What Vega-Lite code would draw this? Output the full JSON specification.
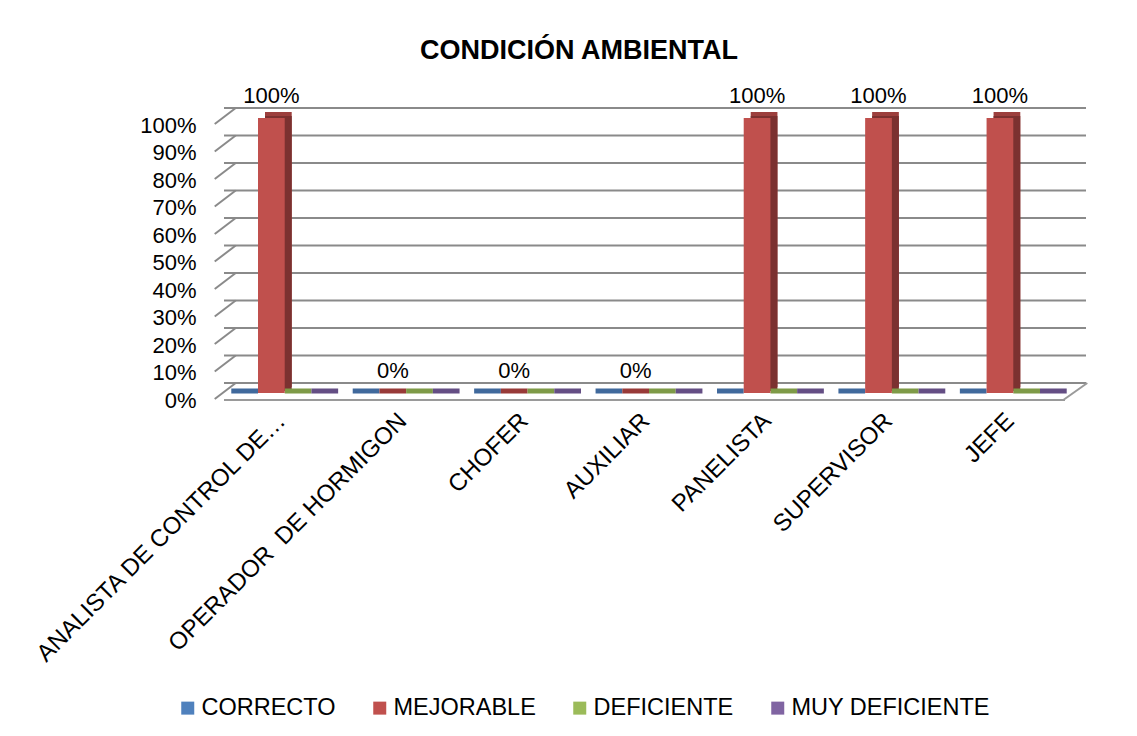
{
  "$schema": "https://vega.github.io/schema/vega-lite/v6.json",
  "width": 850,
  "height": 275,
  "autosize": {"type": "none"},
  "padding": {"left": 224, "top": 118, "right": 63, "bottom": 343},
  "background": "white",
  "config": {
    "view": {"stroke": null},
    "font": "Liberation Sans",
    "axisY": {
      "title": null,
      "grid": false,
      "ticks": false,
      "domain": false,
      "labelOverlap": false,
      "labelFontSize": 22,
      "labelColor": "black",
      "labelPadding": 28,
      "labelOffset": 7,
      "format": ".0%"
    },
    "axisX": {
      "title": null,
      "labelAngle": -45,
      "labelAlign": "right",
      "labelBaseline": "middle",
      "labelFontSize": 24,
      "labelColor": "black",
      "labelPadding": 24,
      "labelOffset": -3,
      "labelLimit": 500,
      "labelOverlap": false,
      "ticks": false,
      "domain": false
    },
    "legend": {
      "title": null,
      "orient": "none",
      "legendX": -48,
      "legendY": 578,
      "direction": "horizontal",
      "symbolType": "square",
      "symbolSize": 169,
      "symbolStrokeWidth": 0,
      "labelFontSize": 23.5,
      "labelColor": "black",
      "labelOffset": 2,
      "columnPadding": 32,
      "labelLimit": 400
    }
  },
  "title": {
    "text": "CONDICIÓN AMBIENTAL",
    "fontSize": 27,
    "fontWeight": "bold",
    "color": "black",
    "frame": "group",
    "anchor": "middle",
    "dx": -70,
    "offset": 20
  },
  "datasets": {
    "respuestas": [
      {"puesto": "ANALISTA DE CONTROL DE…", "serie": "CORRECTO", "valor": 0},
      {"puesto": "ANALISTA DE CONTROL DE…", "serie": "MEJORABLE", "valor": 1},
      {"puesto": "ANALISTA DE CONTROL DE…", "serie": "DEFICIENTE", "valor": 0},
      {"puesto": "ANALISTA DE CONTROL DE…", "serie": "MUY DEFICIENTE", "valor": 0},
      {"puesto": "OPERADOR\u00a0 DE HORMIGON", "serie": "CORRECTO", "valor": 0},
      {"puesto": "OPERADOR\u00a0 DE HORMIGON", "serie": "MEJORABLE", "valor": 0},
      {"puesto": "OPERADOR\u00a0 DE HORMIGON", "serie": "DEFICIENTE", "valor": 0},
      {"puesto": "OPERADOR\u00a0 DE HORMIGON", "serie": "MUY DEFICIENTE", "valor": 0},
      {"puesto": "CHOFER", "serie": "CORRECTO", "valor": 0},
      {"puesto": "CHOFER", "serie": "MEJORABLE", "valor": 0},
      {"puesto": "CHOFER", "serie": "DEFICIENTE", "valor": 0},
      {"puesto": "CHOFER", "serie": "MUY DEFICIENTE", "valor": 0},
      {"puesto": "AUXILIAR", "serie": "CORRECTO", "valor": 0},
      {"puesto": "AUXILIAR", "serie": "MEJORABLE", "valor": 0},
      {"puesto": "AUXILIAR", "serie": "DEFICIENTE", "valor": 0},
      {"puesto": "AUXILIAR", "serie": "MUY DEFICIENTE", "valor": 0},
      {"puesto": "PANELISTA", "serie": "CORRECTO", "valor": 0},
      {"puesto": "PANELISTA", "serie": "MEJORABLE", "valor": 1},
      {"puesto": "PANELISTA", "serie": "DEFICIENTE", "valor": 0},
      {"puesto": "PANELISTA", "serie": "MUY DEFICIENTE", "valor": 0},
      {"puesto": "SUPERVISOR", "serie": "CORRECTO", "valor": 0},
      {"puesto": "SUPERVISOR", "serie": "MEJORABLE", "valor": 1},
      {"puesto": "SUPERVISOR", "serie": "DEFICIENTE", "valor": 0},
      {"puesto": "SUPERVISOR", "serie": "MUY DEFICIENTE", "valor": 0},
      {"puesto": "JEFE", "serie": "CORRECTO", "valor": 0},
      {"puesto": "JEFE", "serie": "MEJORABLE", "valor": 1},
      {"puesto": "JEFE", "serie": "DEFICIENTE", "valor": 0},
      {"puesto": "JEFE", "serie": "MUY DEFICIENTE", "valor": 0}
    ],
    "marcas": [
      {"p": 0}, {"p": 0.1}, {"p": 0.2}, {"p": 0.3}, {"p": 0.4}, {"p": 0.5},
      {"p": 0.6}, {"p": 0.7}, {"p": 0.8}, {"p": 0.9}, {"p": 1}
    ],
    "piso": [{"p": 0}]
  },
  "resolve": {"scale": {"xOffset": "independent"}},
  "layer": [
    {
      "data": {"name": "marcas"},
      "mark": {"type": "rule", "color": "#8a8a8a", "strokeWidth": 2, "xOffset": 12, "yOffset": -10},
      "encoding": {
        "y": {
          "field": "p",
          "type": "quantitative",
          "scale": {"domain": [0, 1], "nice": false},
          "axis": {"values": [0, 0.1, 0.2, 0.3, 0.4, 0.5, 0.6, 0.7, 0.8, 0.9, 1], "format": ".0%"}
        }
      }
    },
    {
      "data": {"name": "marcas"},
      "mark": {"type": "rule", "color": "#8a8a8a", "strokeWidth": 2, "xOffset": -70, "x2Offset": -49, "yOffset": 6, "y2Offset": -10},
      "encoding": {
        "x": {
          "datum": "ANALISTA DE CONTROL DE…",
          "type": "nominal",
          "scale": {"domain": ["ANALISTA DE CONTROL DE…", "OPERADOR\u00a0 DE HORMIGON", "CHOFER", "AUXILIAR", "PANELISTA", "SUPERVISOR", "JEFE"], "paddingInner": 0.12, "paddingOuter": 0.06}
        },
        "x2": {"datum": "ANALISTA DE CONTROL DE…"},
        "y": {"field": "p", "type": "quantitative", "axis": {"values": [0, 0.1, 0.2, 0.3, 0.4, 0.5, 0.6, 0.7, 0.8, 0.9, 1], "format": ".0%"}},
        "y2": {"field": "p"}
      }
    },
    {
      "data": {"name": "piso"},
      "mark": {"type": "rule", "color": "#9a9a9a", "strokeWidth": 2, "xOffset": -9, "yOffset": 7},
      "encoding": {
        "y": {"field": "p", "type": "quantitative", "axis": {"values": [0, 0.1, 0.2, 0.3, 0.4, 0.5, 0.6, 0.7, 0.8, 0.9, 1], "format": ".0%"}}
      }
    },
    {
      "data": {"name": "piso"},
      "mark": {"type": "rule", "color": "#9a9a9a", "strokeWidth": 2, "xOffset": 50, "x2Offset": 74, "yOffset": 7, "y2Offset": -10},
      "encoding": {
        "x": {"datum": "JEFE", "type": "nominal"},
        "x2": {"datum": "JEFE"},
        "y": {"field": "p", "type": "quantitative", "axis": {"values": [0, 0.1, 0.2, 0.3, 0.4, 0.5, 0.6, 0.7, 0.8, 0.9, 1], "format": ".0%"}},
        "y2": {"field": "p"}
      }
    },
    {
      "data": {"name": "respuestas"},
      "transform": [{"filter": "datum.valor > 0"}],
      "mark": {"type": "bar", "color": "#9c3f3d", "yOffset": -6},
      "encoding": {
        "x": {
          "field": "puesto",
          "type": "nominal",
          "sort": ["ANALISTA DE CONTROL DE…", "OPERADOR\u00a0 DE HORMIGON", "CHOFER", "AUXILIAR", "PANELISTA", "SUPERVISOR", "JEFE"]
        },
        "xOffset": {"field": "serie", "type": "nominal", "scale": {"domain": ["CORRECTO", "MEJORABLE", "DEFICIENTE", "MUY DEFICIENTE"], "range": [7, 113.86]}},
        "y": {"field": "valor", "type": "quantitative", "axis": {"values": [0, 0.1, 0.2, 0.3, 0.4, 0.5, 0.6, 0.7, 0.8, 0.9, 1], "format": ".0%"}}
      }
    },
    {
      "data": {"name": "respuestas"},
      "transform": [{"filter": "datum.valor > 0"}],
      "mark": {"type": "bar", "color": "#7b3130", "yOffset": -2},
      "encoding": {
        "x": {"field": "puesto", "type": "nominal"},
        "xOffset": {"field": "serie", "type": "nominal", "scale": {"domain": ["CORRECTO", "MEJORABLE", "DEFICIENTE", "MUY DEFICIENTE"], "range": [7, 113.86]}},
        "y": {"field": "valor", "type": "quantitative", "axis": {"values": [0, 0.1, 0.2, 0.3, 0.4, 0.5, 0.6, 0.7, 0.8, 0.9, 1], "format": ".0%"}}
      }
    },
    {
      "data": {"name": "respuestas"},
      "transform": [{"filter": "datum.valor == 0"}],
      "mark": {"type": "bar", "fillOpacity": 0, "strokeWidth": 5, "yOffset": -2},
      "encoding": {
        "x": {"field": "puesto", "type": "nominal"},
        "xOffset": {"field": "serie", "type": "nominal", "scale": {"domain": ["CORRECTO", "MEJORABLE", "DEFICIENTE", "MUY DEFICIENTE"]}},
        "y": {"field": "valor", "type": "quantitative", "axis": {"values": [0, 0.1, 0.2, 0.3, 0.4, 0.5, 0.6, 0.7, 0.8, 0.9, 1], "format": ".0%"}},
        "stroke": {
          "field": "serie",
          "type": "nominal",
          "scale": {"domain": ["CORRECTO", "MEJORABLE", "DEFICIENTE", "MUY DEFICIENTE"], "range": ["#40699c", "#983a38", "#7e9a47", "#644e84"]}
        }
      }
    },
    {
      "data": {"name": "respuestas"},
      "transform": [{"filter": "datum.valor > 0"}],
      "mark": {"type": "bar"},
      "encoding": {
        "x": {"field": "puesto", "type": "nominal"},
        "xOffset": {"field": "serie", "type": "nominal", "scale": {"domain": ["CORRECTO", "MEJORABLE", "DEFICIENTE", "MUY DEFICIENTE"]}},
        "y": {"field": "valor", "type": "quantitative", "axis": {"values": [0, 0.1, 0.2, 0.3, 0.4, 0.5, 0.6, 0.7, 0.8, 0.9, 1], "format": ".0%"}},
        "color": {
          "field": "serie",
          "type": "nominal",
          "scale": {"domain": ["CORRECTO", "MEJORABLE", "DEFICIENTE", "MUY DEFICIENTE"], "range": ["#4f81bd", "#c0504d", "#9bbb59", "#8064a2"]}
        }
      }
    },
    {
      "data": {"name": "respuestas"},
      "transform": [{"filter": "datum.serie == 'MEJORABLE'"}],
      "mark": {"type": "text", "fontSize": 22, "color": "black", "baseline": "alphabetic", "dy": -15},
      "encoding": {
        "x": {"field": "puesto", "type": "nominal"},
        "xOffset": {"field": "serie", "type": "nominal", "scale": {"domain": ["CORRECTO", "MEJORABLE", "DEFICIENTE", "MUY DEFICIENTE"]}},
        "y": {"field": "valor", "type": "quantitative", "axis": {"values": [0, 0.1, 0.2, 0.3, 0.4, 0.5, 0.6, 0.7, 0.8, 0.9, 1], "format": ".0%"}},
        "text": {"field": "valor", "type": "quantitative", "format": ".0%"}
      }
    }
  ]
}
